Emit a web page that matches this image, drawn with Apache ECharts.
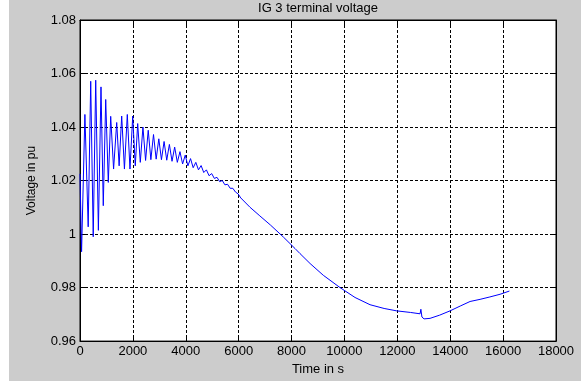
<!DOCTYPE html>
<html>
<head>
<meta charset="utf-8">
<script src="https://cdn.jsdelivr.net/npm/echarts@6/dist/echarts.min.js"></script>
<style>
html,body{margin:0;padding:0;background:#fff;}
#c{width:581px;height:381px;background:linear-gradient(to right,#ffffff 9px,#cccccc 9px);}
</style>
</head>
<body>
<div id="c"></div>
<script>
const titleText = 'IG 3 terminal voltage';
const xName = 'Time in s';
const yName = 'Voltage in pu';
const xTicks = [0, 2000, 4000, 6000, 8000, 10000, 12000, 14000, 16000, 18000];
const yTicks = [0.96, 0.98, 1.00, 1.02, 1.04, 1.06, 1.08];

const times = [
  0, 60, 185, 310, 405, 500, 594, 695, 794, 880,
  972, 1070, 1161, 1270, 1388, 1480, 1577, 1680, 1789, 1890,
  1993, 2090, 2182, 2280, 2380, 2480, 2580, 2680, 2780, 2880,
  2980, 3080, 3180, 3280, 3380, 3480, 3580, 3680, 3780, 3880,
  3980, 4080, 4180, 4280, 4380, 4480, 4580, 4680, 4780, 4880,
  4980, 5080, 5180, 5280, 5380, 5480, 5580, 5680, 5780, 5880,
  5980, 6080, 6430, 6800, 7200, 7690, 8131, 8320, 8700, 9200,
  9833, 10400, 10967, 11500, 11976, 12500, 12860, 12890, 12930, 13010,
  13237, 13600, 13993, 14400, 14750, 15128, 15500, 15884, 16237
];
const volts = [
  1.0225, 0.9934, 1.0447, 1.0027, 1.0571, 0.9990, 1.0575, 1.0014, 1.0550, 1.0106,
  1.0503, 1.0193, 1.0440, 1.0243, 1.0417, 1.0255, 1.0441, 1.0243, 1.0447, 1.0243,
  1.0441, 1.0255, 1.0413, 1.0268, 1.0400, 1.0275, 1.0388, 1.0278, 1.0372, 1.0280,
  1.0356, 1.0278, 1.0346, 1.0276, 1.0335, 1.0272, 1.0325, 1.0268, 1.0308, 1.0262,
  1.0295, 1.0255, 1.0282, 1.0248, 1.0268, 1.0240, 1.0256, 1.0230, 1.0240, 1.0218,
  1.0226, 1.0208, 1.0212, 1.0196, 1.0200, 1.0184, 1.0186, 1.0171, 1.0171, 1.0157,
  1.0150, 1.0135, 1.0100, 1.0068, 1.0034, 0.9989, 0.9946, 0.9927, 0.9890, 0.9846,
  0.9800, 0.9763, 0.9736, 0.9722, 0.9713, 0.9707, 0.9702, 0.9719, 0.9690, 0.9683,
  0.9685, 0.9697, 0.9713, 0.9732, 0.9748, 0.9756, 0.9765, 0.9775, 0.9787
];

const seriesData = times.map((t, i) => [t, volts[i]]);
const font = 'Liberation Sans, Arial, sans-serif';
const fmtY = v => String(parseFloat(v.toFixed(2)));
const fmtX = v => String(Math.round(v));

const chart = echarts.init(document.getElementById('c'), null, {renderer: 'canvas'});
chart.setOption({
  backgroundColor: 'transparent',
  animation: false,
  grid: {
    left: 80, right: 25, top: 20, bottom: 38,
    show: true, backgroundColor: '#ffffff', borderColor: '#000', borderWidth: 1
  },
  graphic: [{
    type: 'text', x: 318, y: 8,
    style: {text: titleText, font: '13px ' + font, fill: '#000', textAlign: 'center', textVerticalAlign: 'middle'}
  }],
  xAxis: [{
    type: 'value', min: xTicks[0], max: xTicks[xTicks.length - 1], interval: 2000,
    position: 'bottom',
    name: xName, nameLocation: 'middle', nameGap: 20,
    nameTextStyle: {color: '#000', fontSize: 13, fontFamily: font},
    axisLine: {show: true, onZero: false, lineStyle: {color: '#000', width: 1}},
    axisTick: {show: true, inside: true, length: 5, lineStyle: {color: '#000'}},
    axisLabel: {show: true, color: '#000', fontSize: 13, fontFamily: font, margin: 4, formatter: fmtX, showMaxLabel: true, showMinLabel: true},
    splitLine: {show: true, lineStyle: {color: '#000', type: [3, 2], width: 1}}
  }, {
    type: 'value', min: xTicks[0], max: xTicks[xTicks.length - 1], interval: 2000,
    position: 'top',
    axisLine: {show: true, onZero: false, lineStyle: {color: '#000', width: 1}},
    axisTick: {show: true, inside: true, length: 5, lineStyle: {color: '#000'}},
    axisLabel: {show: false},
    splitLine: {show: false}
  }],
  yAxis: [{
    type: 'value', min: yTicks[0], max: yTicks[yTicks.length - 1], interval: 0.02,
    position: 'left',
    name: yName, nameLocation: 'middle', nameGap: 42, nameRotate: 90,
    nameTextStyle: {color: '#000', fontSize: 12, fontFamily: font},
    axisLine: {show: true, onZero: false, lineStyle: {color: '#000', width: 1}},
    axisTick: {show: true, inside: true, length: 5, lineStyle: {color: '#000'}},
    axisLabel: {show: true, color: '#000', fontSize: 13, fontFamily: font, margin: 4, formatter: fmtY, showMaxLabel: true, showMinLabel: true},
    splitLine: {show: true, lineStyle: {color: '#000', type: [3, 2], width: 1}}
  }, {
    type: 'value', min: yTicks[0], max: yTicks[yTicks.length - 1], interval: 0.02,
    position: 'right',
    axisLine: {show: true, onZero: false, lineStyle: {color: '#000', width: 1}},
    axisTick: {show: true, inside: true, length: 5, lineStyle: {color: '#000'}},
    axisLabel: {show: false},
    splitLine: {show: false}
  }],
  series: [{
    type: 'line',
    data: seriesData,
    showSymbol: false,
    symbol: 'none',
    smooth: false,
    lineStyle: {color: '#0000ff', width: 1},
    z: 5
  }]
});
</script>
</body>
</html>
